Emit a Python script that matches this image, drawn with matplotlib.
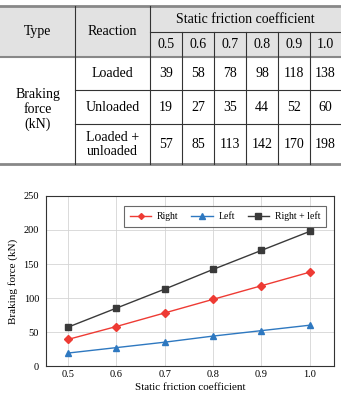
import matplotlib
matplotlib.use("Agg")
import matplotlib.pyplot as plt
from matplotlib.patches import Rectangle

plt.rcParams['font.family'] = ['Liberation Serif', 'DejaVu Serif']

# ── Data ──────────────────────────────────────────────────────────
mu = [0.5, 0.6, 0.7, 0.8, 0.9, 1.0]
mu_labels = ['0.5', '0.6', '0.7', '0.8', '0.9', '1.0']
row_labels = ['Loaded', 'Unloaded', 'Loaded +\nunloaded']
loaded = [39, 58, 78, 98, 118, 138]
unloaded = [19, 27, 35, 44, 52, 60]
both = [57, 85, 113, 142, 170, 198]
series_labels = ['Right', 'Left', 'Right + left']

W, H = 341, 394
fig = plt.figure(figsize=(W / 100, H / 100), dpi=100)

# ── Table (pixel coords) ─────────────────────────────────────────
tab = fig.add_axes([0, 0, 1, 1])
tab.set_xlim(0, W)
tab.set_ylim(H, 0)
tab.axis('off')

col_x = [0, 75, 150, 182, 214, 246, 278, 310, 341]
row_y = [6, 32, 57, 90, 124, 164]
grid_c = '#333333'
fs = 10

tab.add_patch(Rectangle((0, row_y[0]), W, row_y[2] - row_y[0],
                        facecolor='#e2e2e2', edgecolor='none'))
tab.plot([0, W], [row_y[0]] * 2, color='#888888', lw=2.0)
tab.plot([0, W], [row_y[2]] * 2, color='#888888', lw=1.5)
tab.plot([0, W], [row_y[5]] * 2, color='#888888', lw=2.0)
tab.plot([col_x[2], W], [row_y[1]] * 2, color=grid_c, lw=0.8)
for y in row_y[3:5]:
    tab.plot([col_x[1], W], [y, y], color=grid_c, lw=0.8)
for x in col_x[1:3]:
    tab.plot([x, x], [row_y[0], row_y[5]], color=grid_c, lw=0.8)
for x in col_x[3:-1]:
    tab.plot([x, x], [row_y[1], row_y[5]], color=grid_c, lw=0.8)

tab.text(37.5, (row_y[0] + row_y[2]) / 2, 'Type', ha='center', va='center', fontsize=fs)
tab.text(112.5, (row_y[0] + row_y[2]) / 2, 'Reaction', ha='center', va='center', fontsize=fs)
tab.text((col_x[2] + W) / 2, (row_y[0] + row_y[1]) / 2, 'Static friction coefficient',
         ha='center', va='center', fontsize=fs)
for i, lab in enumerate(mu_labels):
    tab.text((col_x[i + 2] + col_x[i + 3]) / 2, (row_y[1] + row_y[2]) / 2, lab,
             ha='center', va='center', fontsize=fs)
tab.text(37.5, (row_y[2] + row_y[5]) / 2 - 1, 'Braking\nforce\n(kN)', ha='center',
         va='center', fontsize=fs, linespacing=1.2)
for r, (lab, vals) in enumerate(zip(row_labels, [loaded, unloaded, both])):
    yc = (row_y[r + 2] + row_y[r + 3]) / 2
    tab.text(112.5, yc, lab, ha='center', va='center', fontsize=fs, linespacing=1.1)
    for i, v in enumerate(vals):
        tab.text((col_x[i + 2] + col_x[i + 3]) / 2, yc, str(v),
                 ha='center', va='center', fontsize=fs)

# ── Line chart ────────────────────────────────────────────────────
ax = fig.add_axes([46 / W, 1 - 366 / H, (334 - 46) / W, (366 - 196) / H])
ax.plot(mu, loaded, color='#ee3b34', marker='D', ms=4, lw=1.0, label=series_labels[0])
ax.plot(mu, unloaded, color='#2e78c0', marker='^', ms=5, lw=1.0, label=series_labels[1])
ax.plot(mu, both, color='#3a3a3a', marker='s', ms=5, lw=1.0, label=series_labels[2])

ax.set_xlim(0.455, 1.05)
ax.set_ylim(0, 250)
ax.set_xticks(mu)
ax.set_xticklabels(mu_labels)
ax.set_yticks(range(0, 251, 50))
ax.tick_params(labelsize=7.5, length=0)
ax.tick_params(axis='x', pad=3)
ax.tick_params(axis='y', pad=5)
ax.grid(True, color='#d4d4d4', lw=0.6)
ax.set_axisbelow(True)
for s in ax.spines.values():
    s.set_color('#333333')
    s.set_linewidth(0.8)
ax.set_xlabel('Static friction coefficient', fontsize=8, labelpad=3)
ax.set_ylabel('Braking force (kN)', fontsize=8, labelpad=4)

leg = ax.legend(loc='upper right', ncol=3, fontsize=7, frameon=True, fancybox=False,
                edgecolor='#444444', borderpad=0.6, handlelength=2.2, handletextpad=0.6,
                columnspacing=1.3, markerscale=0.75, bbox_to_anchor=(0.99, 0.97))
leg.get_frame().set_linewidth(0.8)

fig.savefig('out.png', dpi=100)
